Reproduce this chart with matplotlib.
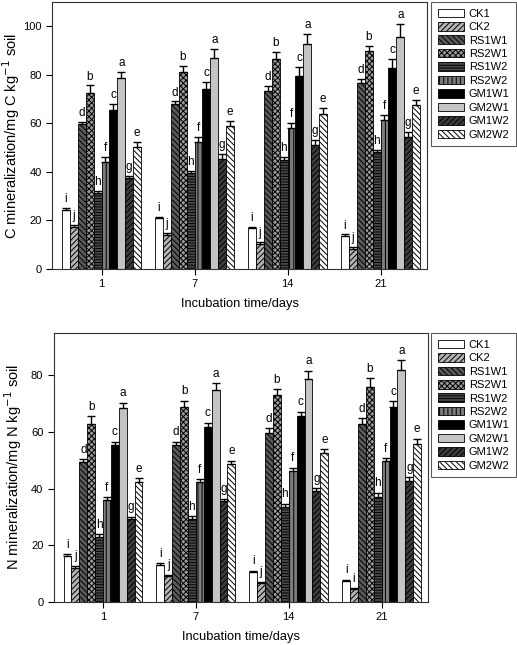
import numpy as np
import matplotlib
matplotlib.use('Agg')
import matplotlib.pyplot as plt
from matplotlib.patches import Patch

plt.rcParams['font.family'] = ['Liberation Sans', 'DejaVu Sans']
plt.rcParams['hatch.linewidth'] = 0.7

days = ['1', '7', '14', '21']
treatments = ['CK1', 'CK2', 'RS1W1', 'RS2W1', 'RS1W2', 'RS2W2', 'GM1W1', 'GM2W1', 'GM1W2', 'GM2W2']

# C mineralization, one row per treatment, columns = days 1,7,14,21
c_mean = [[24.2, 21.0, 16.8, 13.7],
          [17.1, 14.0, 10.3, 8.2],
          [59.6, 68.0, 73.5, 76.6],
          [72.6, 81.0, 86.6, 89.7],
          [31.2, 39.5, 44.8, 48.2],
          [44.0, 52.5, 58.0, 61.2],
          [65.6, 74.0, 79.3, 82.7],
          [78.5, 87.0, 92.5, 95.5],
          [37.3, 45.5, 51.0, 54.2],
          [50.2, 59.0, 64.0, 67.5]]
c_err = [[0.8, 0.6, 0.5, 0.5],
         [1.0, 0.7, 0.7, 0.8],
         [1.1, 1.0, 1.8, 1.5],
         [3.0, 2.5, 2.9, 2.3],
         [0.8, 1.0, 1.3, 0.8],
         [2.2, 2.0, 2.3, 2.2],
         [2.2, 3.2, 3.8, 3.8],
         [2.7, 3.5, 4.2, 5.3],
         [1.0, 2.0, 2.0, 2.3],
         [2.3, 2.0, 2.3, 2.0]]
c_letters = [['i', 'j', 'd', 'b', 'h', 'f', 'c', 'a', 'g', 'e']] * 4

# N mineralization
n_mean = [[16.0, 13.0, 10.5, 7.3],
          [12.0, 9.0, 6.5, 4.4],
          [49.4, 55.5, 59.7, 62.8],
          [62.7, 68.7, 72.9, 76.0],
          [23.0, 29.3, 33.6, 37.0],
          [36.0, 42.3, 46.3, 49.7],
          [55.4, 61.8, 65.6, 68.9],
          [68.3, 74.7, 78.6, 81.9],
          [29.1, 35.5, 39.2, 42.6],
          [42.4, 48.7, 52.6, 55.8]]
n_err = [[0.8, 0.7, 0.5, 0.5],
         [0.7, 0.6, 0.6, 0.3],
         [1.0, 1.0, 1.7, 2.0],
         [2.8, 2.3, 2.2, 3.0],
         [0.8, 1.0, 1.0, 1.5],
         [1.0, 1.0, 1.0, 1.0],
         [1.2, 1.5, 1.5, 2.0],
         [2.0, 2.6, 3.0, 3.5],
         [1.0, 0.9, 1.0, 1.5],
         [1.2, 1.2, 1.3, 1.8]]
n_letters = [['i', 'j', 'd', 'b', 'h', 'f', 'c', 'a', 'g', 'e'],
             ['i', 'j', 'd', 'b', 'h', 'f', 'c', 'a', 'g', 'e'],
             ['i', 'j', 'd', 'b', 'h', 'f', 'c', 'a', 'g', 'e'],
             ['i', 'i', 'd', 'b', 'h', 'f', 'c', 'a', 'g', 'e']]

# look of each treatment: facecolor, hatch
styles = [('white', None),
          ('#b4b4b4', '//////'),
          ('#5a5a5a', '\\\\\\\\\\\\'),
          ('#9a9a9a', 'xxxxxx'),
          ('#4a4a4a', '------'),
          ('#7c7c7c', '||||'),
          ('black', None),
          ('#c4c4c4', None),
          ('#3c3c3c', '//////'),
          ('white', '\\\\\\\\\\\\')]


def draw_panel(ax, mean, err, letters, ymax, yticks, ylabel):
    x = np.arange(len(days))
    w = 0.085
    for k in range(len(treatments)):
        fc, hatch = styles[k]
        pos = x + (k - 4.5) * w
        ax.bar(pos, mean[k], width=w, color=fc, hatch=hatch, edgecolor='black',
               linewidth=0.6, zorder=2)
        ax.errorbar(pos, mean[k], yerr=[np.zeros(len(days)), err[k]], fmt='none',
                    ecolor='black', elinewidth=1.0, capsize=3, capthick=1.0, zorder=3)
        for j in range(len(days)):
            ax.text(pos[j], mean[k][j] + err[k][j] + 1.2, letters[j][k],
                    ha='center', va='bottom', fontsize=8.5)
    ax.set_xlim(-0.53, 3.5)
    ax.set_ylim(0, ymax)
    ax.set_xticks(x)
    ax.set_xticklabels(days, fontsize=8)
    ax.set_yticks(yticks)
    ax.tick_params(axis='y', labelsize=8, length=4, direction='out')
    ax.tick_params(axis='x', length=4, direction='out')
    ax.set_xlabel('Incubation time/days', fontsize=9.3, labelpad=6)
    ax.set_ylabel(ylabel, fontsize=10.5)
    ax.yaxis.set_label_coords(-0.08, 0.5)
    for s in ax.spines.values():
        s.set_linewidth(0.8)
        s.set_color('#333333')


fig = plt.figure(figsize=(5.17, 6.45), dpi=100)
ax1 = fig.add_axes([0.101, 0.583, 0.725, 0.414])
ax2 = fig.add_axes([0.104, 0.067, 0.724, 0.417])

draw_panel(ax1, c_mean, c_err, c_letters, 110, [0, 20, 40, 60, 80, 100],
           'C mineralization/mg C kg$^{-1}$ soil')
draw_panel(ax2, n_mean, n_err, n_letters, 95, [0, 20, 40, 60, 80],
           'N mineralization/mg N kg$^{-1}$ soil')

handles = [Patch(facecolor=fc, hatch=h, edgecolor='black', linewidth=0.6) for fc, h in styles]
for top in [0.997, 0.4837]:
    leg = fig.legend(handles, treatments, loc='upper left', bbox_to_anchor=(0.834, top),
                     fontsize=8, frameon=True, fancybox=False, handlelength=2.34,
                     handleheight=0.8, labelspacing=0.3, borderpad=0.6,
                     handletextpad=0.45, borderaxespad=0)
    leg.get_frame().set_edgecolor('#333333')
    leg.get_frame().set_linewidth(0.8)

fig.savefig('out.png', dpi=100)
